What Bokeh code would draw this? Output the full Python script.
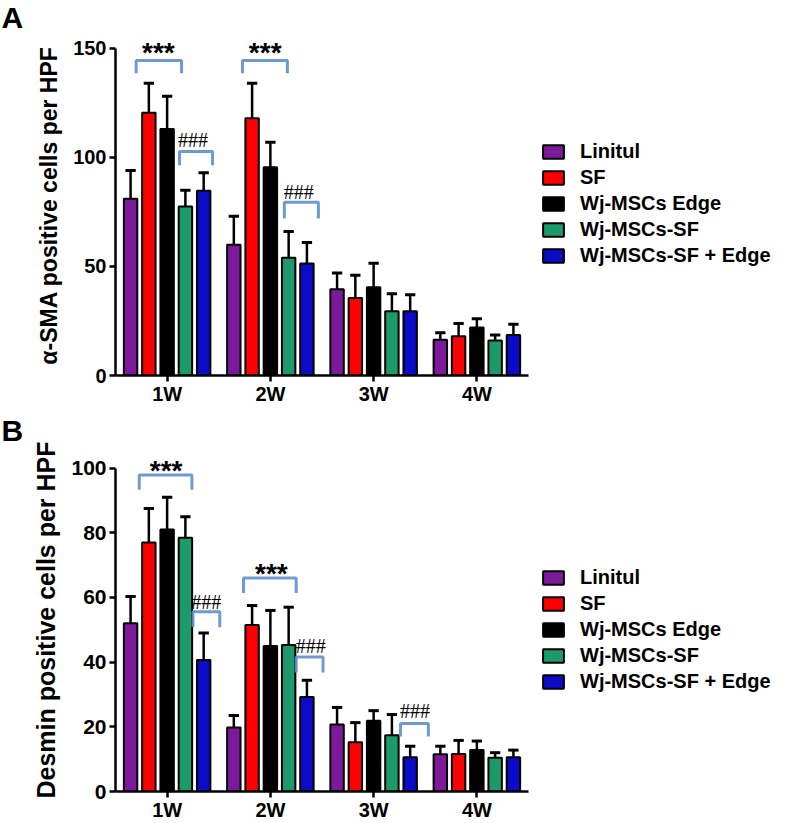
from bokeh.plotting import figure
from bokeh.models import (ColumnDataSource, Range1d, FixedTicker, Legend, LegendItem, Label, Title)
from bokeh.layouts import column
from bokeh.embed import file_html
from bokeh.resources import INLINE

weeks = ["1W", "2W", "3W", "4W"]
groups = ["Linitul", "SF", "Wj-MSCs Edge", "Wj-MSCs-SF", "Wj-MSCs-SF + Edge"]
colors = ["#7d1a9c", "#ff0000", "#000000", "#1d9a6c", "#0b0bc8"]

# Panel A: alpha-SMA positive cells per HPF (means and error-bar lengths)
sma_linitul = [81, 60, 39.5, 16.4]
sma_sf = [120.5, 118, 35.5, 18]
sma_edge = [113, 95.5, 40.5, 22]
sma_msc_sf = [77.5, 54, 29.5, 16]
sma_msc_sf_edge = [84.7, 51.4, 29.5, 18.6]
sma_linitul_err = [13, 13, 7.5, 3.2]
sma_sf_err = [13.5, 16, 10.5, 5.8]
sma_edge_err = [15, 11.5, 11, 4]
sma_msc_sf_err = [7.5, 12, 8, 2.6]
sma_msc_sf_edge_err = [8.3, 9.6, 7.5, 4.9]

# Panel B: Desmin positive cells per HPF
des_linitul = [52, 19.8, 20.7, 11.5]
des_sf = [77, 51.5, 15.2, 11.6]
des_edge = [81, 45, 21.9, 12.8]
des_msc_sf = [78.5, 45.3, 17.4, 10.4]
des_msc_sf_edge = [40.7, 29.2, 10.6, 10.6]
des_linitul_err = [8.3, 3.7, 5.3, 2.5]
des_sf_err = [10.5, 6, 6.1, 4.2]
des_edge_err = [10, 11, 3.1, 2.8]
des_msc_sf_err = [6.5, 11.7, 6.4, 1.6]
des_msc_sf_edge_err = [8.3, 5.2, 3.4, 2.2]

sma_means = [sma_linitul, sma_sf, sma_edge, sma_msc_sf, sma_msc_sf_edge]
sma_errs = [sma_linitul_err, sma_sf_err, sma_edge_err, sma_msc_sf_err, sma_msc_sf_edge_err]
des_means = [des_linitul, des_sf, des_edge, des_msc_sf, des_msc_sf_edge]
des_errs = [des_linitul_err, des_sf_err, des_edge_err, des_msc_sf_err, des_msc_sf_edge_err]

sma_ticks = [0, 50, 100, 150]
des_ticks = [0, 20, 40, 60, 80, 100]

# significance brackets: (week index, left offset, right offset, top, leg end, text, text x offset, text y)
sma_marks = [
    (0, -0.30, 0.14, 144.5, 138.6, "***", -0.085, 148.3),
    (0, 0.12, 0.44, 102.7, 96.4, "###", 0.25, 108.0),
    (1, -0.27, 0.165, 144.5, 138.6, "***", -0.05, 148.3),
    (1, 0.135, 0.465, 79.5, 72.0, "###", 0.276, 84.0),
]
des_marks = [
    (0, -0.27, 0.24, 97.9, 93.3, "***", -0.01, 99.2),
    (0, 0.25, 0.51, 55.6, 50.8, "###", 0.38, 58.7),
    (1, -0.26, 0.25, 66.0, 61.4, "***", 0.01, 67.5),
    (1, 0.25, 0.51, 41.6, 36.8, "###", 0.39, 45.0),
    (2, 0.26, 0.53, 21.0, 17.0, "###", 0.40, 25.0),
]

FONT = "Liberation Sans"
BAR_STEP = 0.177
BAR_W = 0.13
CAP = 0.05
PX_PER_CAT = 103.25
LEFT = 115
WIDTH = 786


def panel(height, top_border, bottom_border, px_per_unit, ybound, ticks, ylabel,
          ylabel_size, ytick_size, means, errs, marks, letter, legend_y):
    frame_w = WIDTH - LEFT
    frame_h = height - top_border - bottom_border
    p = figure(width=WIDTH, height=height, output_backend="svg", toolbar_location=None,
               x_range=Range1d(0, frame_w / PX_PER_CAT),
               y_range=Range1d(0, frame_h / px_per_unit),
               min_border_left=LEFT, min_border_right=0,
               min_border_top=top_border, min_border_bottom=bottom_border)
    p.outline_line_color = None
    p.grid.visible = False
    p.title = Title(text=letter, align="left", offset=-LEFT + 1, standoff=0,
                    vertical_align="top",
                    text_font=FONT, text_font_size="30px", text_font_style="bold",
                    text_color="black")

    items = []
    for g, (name, col) in enumerate(zip(groups, colors)):
        xs = [i + 0.5 + (g - 2) * BAR_STEP for i in range(len(weeks))]
        tops = means[g]
        ups = [m + e for m, e in zip(tops, errs[g])]
        src = ColumnDataSource(dict(x=xs, top=tops, up=ups,
                                    cl=[x - CAP for x in xs], cr=[x + CAP for x in xs]))
        p.segment(x0="x", y0="top", x1="x", y1="up", source=src,
                  line_color="black", line_width=2.5)
        p.segment(x0="cl", y0="up", x1="cr", y1="up", source=src,
                  line_color="black", line_width=3)
        r = p.vbar(x="x", top="top", width=BAR_W, bottom=0, source=src,
                   fill_color=col, line_color="black", line_width=2)
        items.append(LegendItem(label=name, renderers=[r]))

    for (wi, l, rr, top, leg, txt, tx, ty) in marks:
        c = wi + 0.5
        p.line([c + l, c + l, c + rr, c + rr], [leg, top, top, leg],
               line_color="#5f8fcb", line_width=3, line_alpha=0.9)
        if txt == "***":
            lab = Label(x=c + tx, y=ty, text=txt, text_align="center",
                        text_baseline="middle", text_font=FONT,
                        text_font_size="28px", text_font_style="bold", text_color="black")
        else:
            lab = Label(x=c + tx, y=ty, text=txt, text_align="center",
                        text_baseline="middle", text_font="Liberation Serif",
                        text_font_size="20px", text_color="black")
        p.add_layout(lab)

    p.xaxis.ticker = FixedTicker(ticks=[i + 0.5 for i in range(len(weeks))])
    p.xaxis.major_label_overrides = {i + 0.5: w for i, w in enumerate(weeks)}
    p.xaxis.bounds = (0, len(weeks))
    p.yaxis.ticker = FixedTicker(ticks=ticks)
    p.yaxis.bounds = (0, ybound)
    p.yaxis.axis_label = ylabel
    for ax in (p.xaxis, p.yaxis):
        ax.axis_line_width = 2.5
        ax.axis_line_color = "black"
        ax.major_tick_line_width = 2.5
        ax.major_tick_line_color = "black"
        ax.major_tick_out = 6
        ax.major_tick_in = 0
        ax.minor_tick_line_color = None
        ax.major_label_text_font = FONT
        ax.major_label_text_font_style = "bold"
        ax.major_label_text_color = "black"
    p.xaxis.major_label_text_font_size = "20px"
    p.xaxis.major_label_standoff = 1
    p.yaxis.major_label_text_font_size = ytick_size
    p.yaxis.major_label_standoff = 3
    p.yaxis.axis_label_text_font = FONT
    p.yaxis.axis_label_text_font_size = ylabel_size
    p.yaxis.axis_label_text_font_style = "bold"
    p.yaxis.axis_label_text_color = "black"
    p.yaxis.axis_label_standoff = 8

    legend = Legend(items=items, location=(425, legend_y), glyph_width=26, glyph_height=17,
                    label_text_font=FONT, label_text_font_size="20px",
                    label_text_font_style="bold", label_text_color="black",
                    label_standoff=14, spacing=3, padding=0, margin=0,
                    border_line_alpha=0, background_fill_alpha=0)
    p.add_layout(legend)
    return p


pa = panel(413, 32, 38, 2.2, 150, sma_ticks, "α-SMA positive cells per HPF",
           "23px", "20px", sma_means, sma_errs, sma_marks, "A", 108)
pb = panel(410, 32, 29, 3.29, 100, des_ticks, "Desmin positive cells per HPF",
           "25px", "21px", des_means, des_errs, des_marks, "B", 98)

layout = column(pa, pb, spacing=0)
open("out.html", "w").write(file_html(layout, INLINE))
